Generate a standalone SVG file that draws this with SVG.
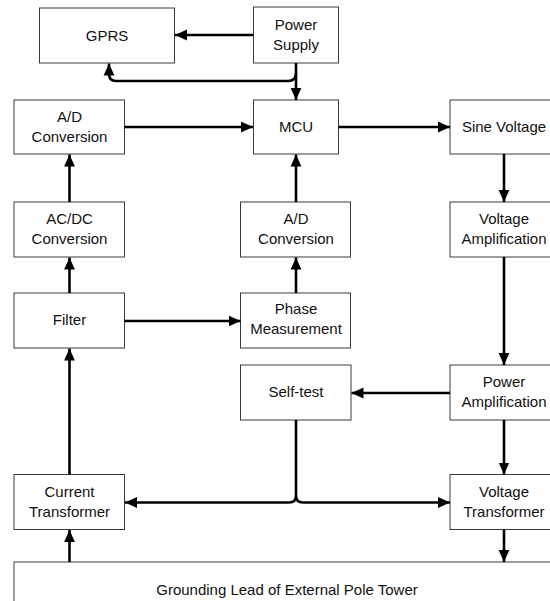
<svg xmlns="http://www.w3.org/2000/svg" width="550" height="601" viewBox="0 0 550 601">
<style>
.box{fill:#fff;stroke:#3a3a3a;stroke-width:1}
.t{font-family:"Liberation Sans",Arial,sans-serif;font-size:15px;fill:#111;text-anchor:middle}
.c{fill:none;stroke:#000;stroke-width:2.6}
</style>
<defs>
<marker id="ah" markerUnits="userSpaceOnUse" markerWidth="12" markerHeight="12" viewBox="0 0 10 10" refX="10" refY="5" orient="auto">
<path d="M0,0.5 L10,5 L0,9.5 Z" fill="#000"/>
</marker>
</defs>
<rect width="550" height="601" fill="#fff"/>
<g id="grounding"><rect class="box" x="14" y="562" width="545" height="50"/><text class="t" x="287" y="595">Grounding Lead of External Pole Tower</text></g>
<g id="gprs"><rect class="box" x="39.5" y="8" width="135" height="55"/><text class="t" x="107" y="41">GPRS</text></g>
<g id="power-supply"><rect class="box" x="253.5" y="7" width="85" height="56"/><text class="t" x="296" y="30">Power</text><text class="t" x="296" y="50">Supply</text></g>
<g id="ad1"><rect class="box" x="14" y="100" width="110.5" height="54"/><text class="t" x="69.5" y="122">A/D</text><text class="t" x="69.5" y="142">Conversion</text></g>
<g id="mcu"><rect class="box" x="253.5" y="100" width="85" height="54"/><text class="t" x="296" y="132">MCU</text></g>
<g id="sine"><rect class="box" x="450" y="100" width="110" height="54"/><text class="t" x="504" y="132">Sine Voltage</text></g>
<g id="acdc"><rect class="box" x="14" y="202" width="110.5" height="55"/><text class="t" x="69.5" y="224">AC/DC</text><text class="t" x="69.5" y="244">Conversion</text></g>
<g id="ad2"><rect class="box" x="240.5" y="202" width="110" height="55"/><text class="t" x="296" y="224">A/D</text><text class="t" x="296" y="244">Conversion</text></g>
<g id="vamp"><rect class="box" x="450" y="202" width="110" height="55"/><text class="t" x="504" y="224">Voltage</text><text class="t" x="504" y="244">Amplification</text></g>
<g id="filter"><rect class="box" x="14" y="293" width="110.5" height="55"/><text class="t" x="69.5" y="325">Filter</text></g>
<g id="phase"><rect class="box" x="240.5" y="293" width="110" height="55"/><text class="t" x="296" y="314">Phase</text><text class="t" x="296" y="334">Measurement</text></g>
<g id="selftest"><rect class="box" x="240.5" y="365" width="110.5" height="55"/><text class="t" x="296" y="397">Self-test</text></g>
<g id="pamp"><rect class="box" x="450" y="365" width="110" height="55"/><text class="t" x="504" y="387">Power</text><text class="t" x="504" y="407">Amplification</text></g>
<g id="ct"><rect class="box" x="14" y="474.5" width="110.5" height="55"/><text class="t" x="69.5" y="497">Current</text><text class="t" x="69.5" y="517">Transformer</text></g>
<g id="vt"><rect class="box" x="450" y="474.5" width="110" height="55"/><text class="t" x="504" y="497">Voltage</text><text class="t" x="504" y="517">Transformer</text></g>
<g id="connectors">
<path class="c" d="M253,35 L175,35" marker-end="url(#ah)"/>
<path class="c" d="M296,63 L296,100" marker-end="url(#ah)"/>
<path class="c" d="M296,73 Q296,81 288,81 L116,81 Q109,81 109,74 L109,63.5" marker-end="url(#ah)"/>
<path class="c" d="M124.5,127 L253,127" marker-end="url(#ah)"/>
<path class="c" d="M338.5,127 L450,127" marker-end="url(#ah)"/>
<path class="c" d="M69.5,202 L69.5,154.5" marker-end="url(#ah)"/>
<path class="c" d="M296,202 L296,154.5" marker-end="url(#ah)"/>
<path class="c" d="M504,154 L504,202" marker-end="url(#ah)"/>
<path class="c" d="M69.5,293 L69.5,257.5" marker-end="url(#ah)"/>
<path class="c" d="M296,293 L296,257.5" marker-end="url(#ah)"/>
<path class="c" d="M124.5,321 L240.5,321" marker-end="url(#ah)"/>
<path class="c" d="M504,257 L504,365" marker-end="url(#ah)"/>
<path class="c" d="M450,393 L351.5,393" marker-end="url(#ah)"/>
<path class="c" d="M69.5,474.5 L69.5,348.5" marker-end="url(#ah)"/>
<path class="c" d="M504,420 L504,474.5" marker-end="url(#ah)"/>
<path class="c" d="M296,420 L296,496 Q296,502.5 289,502.5 L125,502.5" marker-end="url(#ah)"/>
<path class="c" d="M296,496 Q296,502.5 303,502.5 L450,502.5" marker-end="url(#ah)"/>
<path class="c" d="M69.5,562 L69.5,530" marker-end="url(#ah)"/>
<path class="c" d="M504,530 L504,562" marker-end="url(#ah)"/>
</g>
</svg>
